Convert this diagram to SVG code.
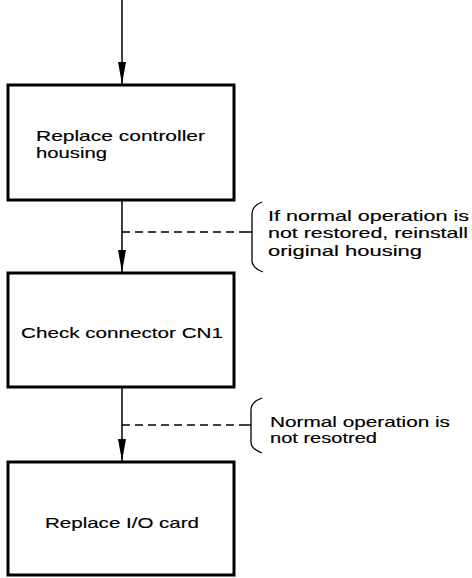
<svg xmlns="http://www.w3.org/2000/svg" width="472" height="578" viewBox="0 0 472 578">
<defs>
<style>
.box{fill:#fff;stroke:#000;stroke-width:3}
.t{font-family:"Liberation Sans",Arial,sans-serif;font-size:14.5px;fill:#000;stroke:#000;stroke-width:0.15}
.flow{stroke:#000;stroke-width:1.5;fill:none}
.dash{stroke:#000;stroke-width:1.3;stroke-dasharray:8 5;fill:none}
.brace{stroke:#000;stroke-width:1.3;fill:none}
</style>
<marker id="arr" markerUnits="userSpaceOnUse" markerWidth="22" markerHeight="10" viewBox="0 0 22 10" refX="22" refY="5" orient="auto">
<path d="M0,1 L22,5 L0,9 Z" fill="#000"/>
</marker>
</defs>
<rect width="472" height="578" fill="#fff"/>
<g id="connectors">
<line class="flow" x1="122" y1="0" x2="122" y2="84" marker-end="url(#arr)"/>
<line class="flow" x1="122" y1="200" x2="122" y2="272" marker-end="url(#arr)"/>
<line class="flow" x1="122" y1="387" x2="122" y2="461" marker-end="url(#arr)"/>
<line class="dash" x1="122" y1="232" x2="246" y2="232"/>
<line class="dash" x1="122" y1="425" x2="246" y2="425"/>
</g>
<g id="box1">
<rect class="box" x="8" y="85" width="226" height="115"/>
<text class="t" x="36" y="141" textLength="169" lengthAdjust="spacingAndGlyphs">Replace controller</text>
<text class="t" x="36" y="158" textLength="71" lengthAdjust="spacingAndGlyphs">housing</text>
</g>
<g id="box2">
<rect class="box" x="8" y="273" width="226" height="114"/>
<text class="t" x="21" y="338" textLength="202" lengthAdjust="spacingAndGlyphs">Check connector CN1</text>
</g>
<g id="box3">
<rect class="box" x="8" y="462" width="226" height="113"/>
<text class="t" x="45" y="528" textLength="154" lengthAdjust="spacingAndGlyphs">Replace I/O card</text>
</g>
<g id="note1">
<path class="brace" d="M262,202 Q252,206 252,214 L252,260 Q252,268 263,272 M246,232 L252,232"/>
<text class="t" x="268" y="221" textLength="201" lengthAdjust="spacingAndGlyphs">If normal operation is</text>
<text class="t" x="268" y="238" textLength="200" lengthAdjust="spacingAndGlyphs">not restored, reinstall</text>
<text class="t" x="268" y="256" textLength="154" lengthAdjust="spacingAndGlyphs">original housing</text>
</g>
<g id="note2">
<path class="brace" d="M262,398 Q251,402 251,410 L251,442 Q251,449 262,453 M246,425 L251,425"/>
<text class="t" x="270" y="427" textLength="180" lengthAdjust="spacingAndGlyphs">Normal operation is</text>
<text class="t" x="270" y="443" textLength="107" lengthAdjust="spacingAndGlyphs">not resotred</text>
</g>
</svg>
